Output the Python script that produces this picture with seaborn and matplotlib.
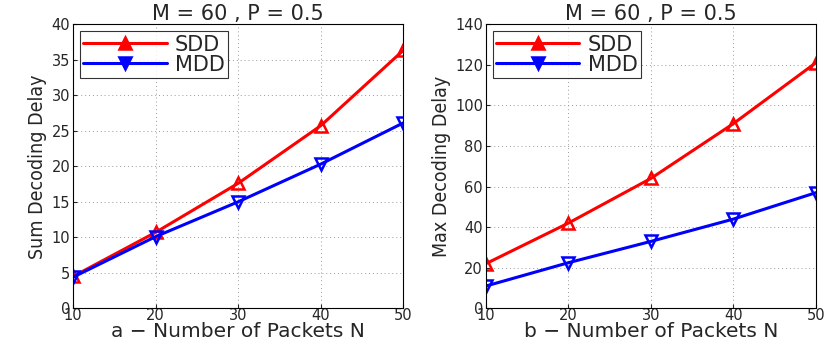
import matplotlib
matplotlib.use("Agg")
import matplotlib.pyplot as plt
import seaborn as sns
import pandas as pd

# packets N
packets = [10, 20, 30, 40, 50]

# sum decoding delay (panel a)
sum_sdd = [4.5, 10.7, 17.6, 25.7, 36.3]
sum_mdd = [4.4, 10.1, 15.0, 20.3, 26.1]

# max decoding delay (panel b)
max_sdd = [22, 42, 64, 91, 121]
max_mdd = [11, 22.5, 33, 44, 57]

title = "M = 60 , P = 0.5"

sns.set_style("ticks")
plt.rcParams['font.family'] = ['DejaVu Sans']

fig, axes = plt.subplots(1, 2, figsize=(8.3, 3.45), dpi=100)
fig.subplots_adjust(left=0.088, right=0.983, bottom=0.106, top=0.930, wspace=0.25)

panels = [
    (axes[0], sum_sdd, sum_mdd, "Sum Decoding Delay", "a − Number of Packets N", (0, 40), range(0, 41, 5)),
    (axes[1], max_sdd, max_mdd, "Max Decoding Delay", "b − Number of Packets N", (0, 140), range(0, 141, 20)),
]

for ax, sdd, mdd, ylab, xlab, ylim, yticks in panels:
    df = pd.DataFrame({"N": packets, "SDD": sdd, "MDD": mdd})
    sns.lineplot(data=df, x="N", y="SDD", ax=ax, color="red", marker="^",
                 markersize=9, markerfacecolor="none", markeredgecolor="red",
                 markeredgewidth=1.8, linewidth=2.2, label="SDD")
    sns.lineplot(data=df, x="N", y="MDD", ax=ax, color="blue", marker="v",
                 markersize=9, markerfacecolor="none", markeredgecolor="blue",
                 markeredgewidth=1.8, linewidth=2.2, label="MDD")

    ax.set_xlim(10, 50)
    ax.set_ylim(*ylim)
    ax.set_xticks(packets)
    ax.set_yticks(list(yticks))
    ax.grid(True, linestyle=(0, (1, 3)), color="#999999", linewidth=0.7)
    ax.tick_params(direction="in", labelsize=10.5, length=3)
    ax.tick_params(axis="x", pad=0)
    ax.tick_params(axis="y", pad=2)
    for s in ax.spines.values():
        s.set_visible(True)
        s.set_linewidth(0.8)
        s.set_color("black")

    ax.set_title(title, fontsize=15, pad=3)
    ax.set_xlabel(xlab, fontsize=14.5, labelpad=-1)
    ax.set_ylabel(ylab, fontsize=14, fontstretch="condensed", labelpad=3)

    leg = ax.legend(loc="upper left", fontsize=15, handlelength=4.0, frameon=True,
                    fancybox=False, edgecolor="black", borderpad=0.15, labelspacing=0.0,
                    borderaxespad=0.35, handletextpad=0.4)
    leg.get_frame().set_linewidth(0.8)
    for h in leg.legend_handles:
        h.set_markerfacecolor(h.get_color())

plt.savefig("out.png", dpi=100)
